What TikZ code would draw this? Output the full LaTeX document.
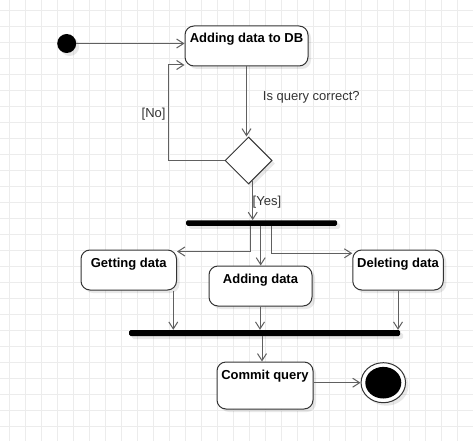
\documentclass[tikz,border=0pt]{standalone}
\usepackage{fontspec}
\setmainfont{Liberation Sans}
\usetikzlibrary{arrows.meta,shadows,shapes.geometric,calc}
\definecolor{gridc}{RGB}{236,236,236}
\definecolor{edgec}{RGB}{96,96,96}
\definecolor{boxc}{RGB}{51,51,51}
\definecolor{labc}{RGB}{51,51,51}
\begin{document}
\begin{tikzpicture}[x=1pt,y=-1pt,
  shad/.style={drop shadow={shadow xshift=3pt,shadow yshift=-3pt,fill=black,opacity=0.09}},
  act/.style={draw=boxc, line width=1pt, rounded corners=9pt, fill=white, shad,
    inner xsep=0pt, inner ysep=0pt, text height=17pt,
    font=\fontsize{13}{15}\selectfont\bfseries},
  bar/.style={fill=black, draw=none, inner sep=0pt, rounded corners=1.5pt, shad},
  edge/.style={draw=edgec, line width=1pt, -{Straight Barb[length=7pt,width=9pt]}},
  lab/.style={font=\fontsize{13}{15}\selectfont, text=labc, inner sep=0pt}]
\fill[white] (0,0) rectangle (473,441);
\useasboundingbox (0,0) rectangle (473,441);
\foreach \x in {9.5,25.5,...,473} \draw[gridc, line width=1pt] (\x,0) -- (\x,441);
\foreach \y in {10.5,26.5,...,441} \draw[gridc, line width=1pt] (0,\y) -- (473,\y);

% nodes
\node[circle, fill=black, minimum size=19pt, inner sep=0pt, shad] (st) at (66.7,43.5) {};
\node[act, minimum width=123pt, text depth=23pt] (db) at (246.5,46) {Adding data to DB};
\node[diamond, draw=boxc, line width=1pt, fill=white, minimum width=47pt, minimum height=47pt, inner sep=0pt, shad] (dec) at (248.5,160.5) {};
\node[bar, minimum width=151pt, minimum height=5.5pt] (f1) at (261.5,223) {};
\node[act, minimum width=95.5pt, text depth=23pt] (get) at (128.75,270) {Getting data};
\node[act, minimum width=103pt, text depth=23pt] (add) at (260.5,286) {Adding data};
\node[act, minimum width=90.5pt, text depth=23pt] (del) at (398,270) {Deleting data};
\node[bar, minimum width=271pt, minimum height=6pt] (f2) at (264.7,333) {};
\node[act, minimum width=96pt, text depth=30pt] (com) at (265,385.5) {Commit query};
\node[ellipse, draw=boxc, line width=1pt, fill=white, minimum width=44.5pt, minimum height=40pt, inner sep=0pt, shad] (en) at (383.3,382.7) {};
\node[ellipse, fill=black, minimum width=36pt, minimum height=31.6pt, inner sep=0pt] (enin) at (en.center) {};

% labels
\node[lab, anchor=base west] (q) at (262.7,100.7) {Is query correct?};
\node[lab, anchor=base east] (no) at (165.7,117.7) {[No]};
\node[lab, anchor=base west] (yes) at (252.5,205) {[Yes]};

% connectors
\draw[edge] (st) -- (db.west |- st);
\draw[edge] (db.south) -- (db.south |- dec.north);
\draw[edge] (dec.west) -| (168,65) -- (db.west |- 0,65);
\coordinate (ys) at ($(dec.south)+(4.2,-4.2)$);
\draw[edge] (ys) -- (ys |- f1.north);
\coordinate (fl) at ([xshift=-11.2pt]f1.south);
\coordinate (fm) at ([xshift=-0.8pt]f1.south);
\coordinate (fr) at ([xshift=10.2pt]f1.south);
\draw[edge] (fl) |- (get.east |- 0,251.5);
\draw[edge] (fm) -- (fm |- add.north);
\draw[edge] (fr) |- (del.west |- 0,253.3);
\coordinate (gs) at ([xshift=44.55pt]get.south);
\draw[edge] (gs) -- (gs |- f2.north);
\coordinate (as) at ([xshift=-0.5pt]add.south);
\draw[edge] (as) -- (as |- f2.north);
\draw[edge] (del.south) -- (del.south |- f2.north);
\coordinate (js) at ([xshift=-2.7pt]f2.south);
\draw[edge] (js) -- (js |- com.north);
\draw[edge] (com.east |- en.west) -- (en.west);
\end{tikzpicture}
\end{document}
